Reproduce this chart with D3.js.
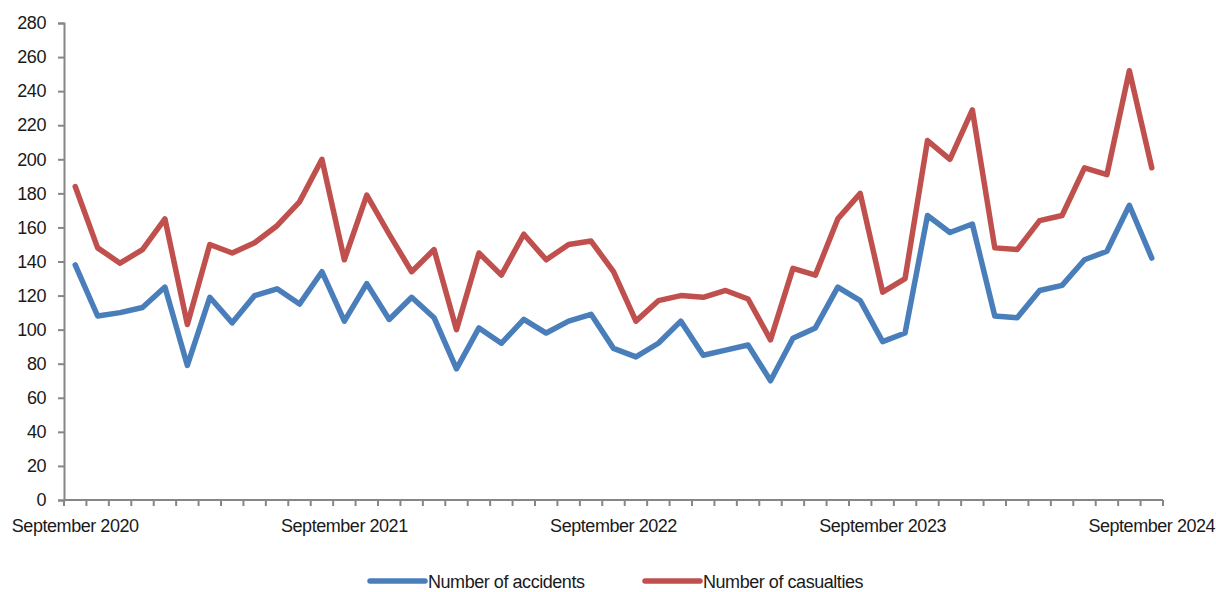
<!DOCTYPE html>
<html>
<head>
<meta charset="utf-8">
<script src="https://cdn.jsdelivr.net/npm/d3@7"></script>
<style>
  body { margin: 0; background: #fff; }
  text { font-family: "Liberation Sans", Arial, sans-serif; fill: #1a1a1a; letter-spacing: -0.45px; }
</style>
</head>
<body>
<div id="chart"></div>
<script>
var months = [
  "2020-09","2020-10","2020-11","2020-12","2021-01","2021-02","2021-03","2021-04","2021-05","2021-06","2021-07","2021-08",
  "2021-09","2021-10","2021-11","2021-12","2022-01","2022-02","2022-03","2022-04","2022-05","2022-06","2022-07","2022-08",
  "2022-09","2022-10","2022-11","2022-12","2023-01","2023-02","2023-03","2023-04","2023-05","2023-06","2023-07","2023-08",
  "2023-09","2023-10","2023-11","2023-12","2024-01","2024-02","2024-03","2024-04","2024-05","2024-06","2024-07","2024-08",
  "2024-09"
];

var accidents = [
  138, 108, 110, 113, 125, 79, 119, 104, 120, 124, 115, 134,
  105, 127, 106, 119, 107, 77, 101, 92, 106, 98, 105, 109,
  89, 84, 92, 105, 85, 88, 91, 70, 95, 101, 125, 117,
  93, 98, 167, 157, 162, 108, 107, 123, 126, 141, 146, 173,
  142
];

var casualties = [
  184, 148, 139, 147, 165, 103, 150, 145, 151, 161, 175, 200,
  141, 179, 156, 134, 147, 100, 145, 132, 156, 141, 150, 152,
  134, 105, 117, 120, 119, 123, 118, 94, 136, 132, 165, 180,
  122, 130, 211, 200, 229, 148, 147, 164, 167, 195, 191, 252,
  195
];

var labelMonths = ["2020-09", "2021-09", "2022-09", "2023-09", "2024-09"];
var tickLabels = ["September 2020", "September 2021", "September 2022", "September 2023", "September 2024"];
var yTicks = [0, 20, 40, 60, 80, 100, 120, 140, 160, 180, 200, 220, 240, 260, 280];

var series = [
  { name: "Number of accidents", values: accidents, color: "#4a7ebb" },
  { name: "Number of casualties", values: casualties, color: "#c0504d" }
];

var width = 1216;
var height = 592;
var plotLeft = 64, plotRight = 1163, plotTop = 23, plotBottom = 500;
var axisColor = "#868686";
var fontSize = "18px";

var svg = d3.select("#chart").append("svg")
  .attr("width", width)
  .attr("height", height);

/* Scales */
var x = d3.scaleBand()
  .domain(months)
  .range([plotLeft, plotRight]);

var y = d3.scaleLinear()
  .domain([0, 280])
  .range([plotBottom, plotTop]);

/* Y axis */
var yAxis = d3.axisLeft(y)
  .tickValues(yTicks)
  .tickSize(6)
  .tickPadding(12);

var gy = svg.append("g")
  .attr("transform", `translate(${plotLeft}, 0)`)
  .call(yAxis);
gy.select(".domain").attr("stroke", axisColor).attr("stroke-width", 2);
gy.selectAll(".tick line").attr("stroke", axisColor).attr("stroke-width", 2);
gy.selectAll(".tick text")
  .style("font-size", fontSize)
  .style("font-family", "'Liberation Sans', Arial, sans-serif")
  .attr("fill", "#1a1a1a");

/* X axis: ticks between months, labels on Septembers */
var gx = svg.append("g").attr("class", "x axis");

gx.append("line")
  .attr("x1", plotLeft).attr("x2", plotRight)
  .attr("y1", plotBottom).attr("y2", plotBottom)
  .attr("stroke", axisColor)
  .attr("stroke-width", 2);

gx.selectAll(".xtick")
  .data(months.concat(["end"]))
  .enter()
  .append("line")
  .attr("class", "xtick")
  .attr("x1", (d, i) => plotLeft + i * x.step())
  .attr("x2", (d, i) => plotLeft + i * x.step())
  .attr("y1", plotBottom)
  .attr("y2", plotBottom + 6)
  .attr("stroke", axisColor)
  .attr("stroke-width", 2);

gx.selectAll(".xlabel")
  .data(labelMonths)
  .enter()
  .append("text")
  .attr("class", "xlabel")
  .attr("x", d => x(d) + x.bandwidth() / 2)
  .attr("y", 532)
  .attr("text-anchor", "middle")
  .style("font-size", fontSize)
  .text((d, i) => tickLabels[i]);

/* Lines */
var line = d3.line()
  .x((d, i) => x(months[i]) + x.bandwidth() / 2)
  .y(d => y(d));

svg.append("g")
  .attr("class", "lines")
  .selectAll("path")
  .data(series)
  .enter()
  .append("path")
  .attr("d", d => line(d.values))
  .attr("fill", "none")
  .attr("stroke", d => d.color)
  .attr("stroke-width", 5.5)
  .attr("stroke-linejoin", "round")
  .attr("stroke-linecap", "round");

/* Legend */
var legendX = [370, 645];

var legend = svg.selectAll(".legend")
  .data(series)
  .enter()
  .append("g")
  .attr("class", "legend")
  .attr("transform", (d, i) => `translate(${legendX[i]}, 581)`);

legend.append("line")
  .attr("x1", 0).attr("x2", 55)
  .attr("y1", 0).attr("y2", 0)
  .attr("stroke", d => d.color)
  .attr("stroke-width", 5.5)
  .attr("stroke-linecap", "round");

legend.append("text")
  .attr("x", 58)
  .attr("y", 6.5)
  .style("font-size", fontSize)
  .text(d => d.name);
</script>
</body>
</html>
